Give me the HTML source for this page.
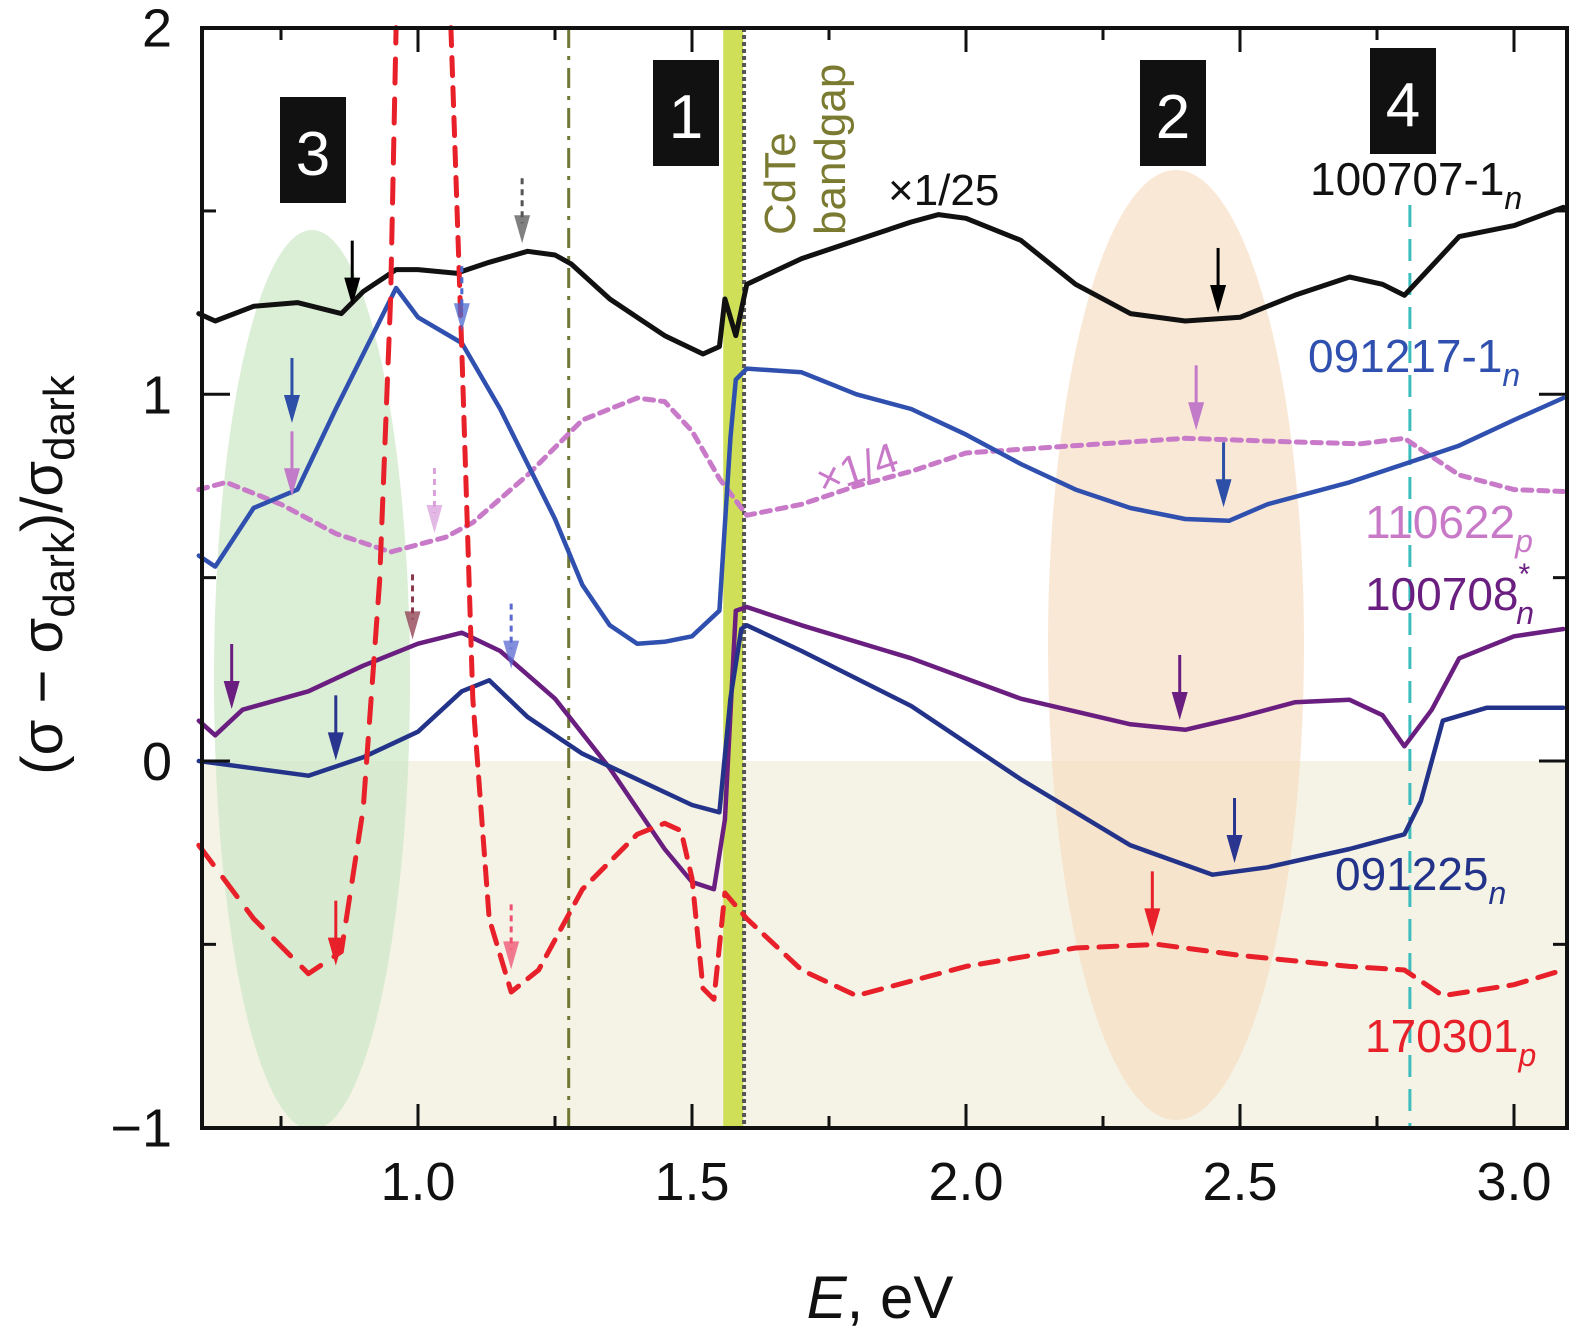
<!DOCTYPE html>
<html><head><meta charset="utf-8"><style>
html,body{margin:0;padding:0;background:#fff;}
svg{display:block;font-family:"Liberation Sans",sans-serif;}
</style></head><body>
<svg id="chart" width="1575" height="1338" viewBox="0 0 1575 1338" xmlns="http://www.w3.org/2000/svg">
<g id="bg"></g><g id="series"></g><g id="fg"></g>
</svg>
<script>
const xTicks=[1.0,1.5,2.0,2.5,3.0];
const xTickLabels=["1.0","1.5","2.0","2.5","3.0"];
const yTicks=[-1,0,1,2];
const yTickLabels=["\u22121","0","1","2"];
const black=[[0.6,1.22],[0.63,1.2],[0.7,1.24],[0.78,1.25],[0.86,1.22],[0.9,1.28],[0.96,1.34],[1.0,1.34],[1.07,1.33],[1.13,1.36],[1.2,1.39],[1.25,1.38],[1.28,1.355],[1.35,1.26],[1.45,1.16],[1.52,1.11],[1.55,1.13],[1.56,1.26],[1.58,1.16],[1.6,1.3],[1.7,1.37],[1.8,1.42],[1.9,1.47],[1.95,1.49],[2.0,1.48],[2.1,1.42],[2.2,1.3],[2.3,1.22],[2.4,1.2],[2.5,1.21],[2.6,1.27],[2.7,1.32],[2.76,1.3],[2.8,1.27],[2.85,1.35],[2.9,1.43],[3.0,1.46],[3.09,1.51]];
const blue=[[0.6,0.56],[0.63,0.53],[0.7,0.69],[0.78,0.74],[0.85,0.96],[0.92,1.17],[0.96,1.29],[1.0,1.21],[1.08,1.14],[1.15,0.96],[1.25,0.66],[1.3,0.48],[1.35,0.37],[1.4,0.32],[1.45,0.325],[1.5,0.34],[1.55,0.41],[1.57,0.88],[1.58,1.04],[1.6,1.07],[1.7,1.06],[1.8,1.0],[1.9,0.96],[2.0,0.89],[2.1,0.81],[2.2,0.74],[2.3,0.69],[2.4,0.66],[2.48,0.655],[2.55,0.7],[2.7,0.76],[2.8,0.81],[2.9,0.86],[3.0,0.93],[3.09,0.99]];
const pink=[[0.6,0.74],[0.65,0.76],[0.75,0.7],[0.85,0.62],[0.95,0.57],[1.05,0.61],[1.1,0.65],[1.2,0.78],[1.3,0.93],[1.4,0.99],[1.45,0.98],[1.5,0.9],[1.55,0.77],[1.6,0.67],[1.7,0.7],[1.8,0.75],[1.9,0.79],[2.0,0.84],[2.2,0.86],[2.4,0.88],[2.6,0.87],[2.72,0.865],[2.8,0.88],[2.9,0.78],[3.0,0.74],[3.09,0.735]];
const purple=[[0.6,0.11],[0.63,0.07],[0.68,0.14],[0.8,0.19],[0.9,0.26],[1.0,0.32],[1.08,0.35],[1.15,0.3],[1.25,0.17],[1.35,-0.02],[1.45,-0.24],[1.5,-0.33],[1.54,-0.35],[1.56,-0.16],[1.58,0.41],[1.6,0.42],[1.7,0.37],[1.9,0.28],[2.1,0.17],[2.3,0.1],[2.4,0.085],[2.5,0.12],[2.6,0.16],[2.7,0.167],[2.76,0.125],[2.8,0.04],[2.85,0.14],[2.9,0.28],[3.0,0.34],[3.09,0.36]];
const navy=[[0.6,0.0],[0.7,-0.02],[0.8,-0.04],[0.9,0.01],[1.0,0.08],[1.08,0.19],[1.13,0.22],[1.2,0.12],[1.3,0.02],[1.4,-0.05],[1.5,-0.12],[1.55,-0.14],[1.57,0.17],[1.59,0.36],[1.6,0.37],[1.7,0.3],[1.9,0.15],[2.1,-0.05],[2.3,-0.23],[2.45,-0.31],[2.55,-0.29],[2.7,-0.24],[2.8,-0.2],[2.83,-0.11],[2.87,0.11],[2.95,0.145],[3.09,0.145]];
const red1=[[0.6,-0.23],[0.7,-0.43],[0.8,-0.58],[0.86,-0.52],[0.9,-0.13],[0.93,0.49],[0.95,1.26],[0.96,2.0]];
const red2=[[1.06,2.0],[1.08,1.12],[1.1,0.17],[1.13,-0.43],[1.17,-0.63],[1.22,-0.57],[1.3,-0.35],[1.4,-0.2],[1.45,-0.17],[1.48,-0.19],[1.5,-0.32],[1.52,-0.62],[1.54,-0.65],[1.56,-0.36],[1.6,-0.43],[1.7,-0.57],[1.8,-0.64],[2.0,-0.56],[2.2,-0.51],[2.35,-0.5],[2.5,-0.53],[2.7,-0.56],[2.8,-0.57],[2.87,-0.64],[3.0,-0.61],[3.09,-0.57]];
const arrows=[[0.88,1.22,"#000",0],[1.19,1.39,"#555",1],[0.77,0.90,"#2d4fa8",0],[1.08,1.15,"#4a6ad0",1],[0.77,0.70,"#c27bc8",0],[1.03,0.6,"#d9a0dc",1],[0.99,0.31,"#8b3a4a",1],[0.66,0.12,"#6a1f80",0],[0.85,-0.02,"#2a3590",0],[1.17,0.23,"#5a6ad0",1],[2.46,1.2,"#000",0],[2.42,0.88,"#c27bc8",0],[2.47,0.67,"#2d4fa8",0],[2.39,0.09,"#6a1f80",0],[2.49,-0.3,"#2a3590",0],[0.85,-0.58,"#e8202a",0],[1.17,-0.59,"#f05070",1],[2.34,-0.5,"#e8202a",0]];
const L=202,R=1567,T=28,B=1128;
const X=e=>418+(e-1)*548;
const Y=v=>761-366.7*v;
const NS="http://www.w3.org/2000/svg";
function mk(t,a,p){const el=document.createElementNS(NS,t);for(const k in a)el.setAttribute(k,a[k]);p.appendChild(el);return el;}
const bg=document.getElementById('bg'),sg=document.getElementById('series'),fg=document.getElementById('fg');
let r=mk('rect',{x:L,y:Y(0),width:R-L,height:B-Y(0),fill:'#f4f3e6'},bg);

let e1=mk('ellipse',{cx:312,cy:680,rx:98,ry:450,fill:'#cfe8c8',opacity:0.75},bg);

let e2=mk('ellipse',{cx:1176,cy:645,rx:128,ry:475,fill:'#f8dcc0',opacity:0.65},bg);

let band=mk('rect',{x:X(1.557),y:T,width:20,height:B-T,fill:'#cfe058'},bg);

let dl=mk('line',{x1:X(1.595),x2:X(1.595),y1:T,y2:B,stroke:'#555',"stroke-width":4,"stroke-dasharray":"4 3"},bg);

let dd=mk('line',{x1:X(1.275),x2:X(1.275),y1:T,y2:B,stroke:'#707833',"stroke-width":3,"stroke-dasharray":"20 8 4 8"},bg);

let tl=mk('line',{x1:X(2.81),x2:X(2.81),y1:205,y2:B,stroke:'#3cbcbc',"stroke-width":3,"stroke-dasharray":"22 12"},bg);

function path(d,color,w,dash,name){const s=d.map((p,i)=>(i?'L':'M')+X(p[0]).toFixed(1)+','+Y(p[1]).toFixed(1)).join('');
const el=mk('path',{d:s,fill:'none',stroke:color,"stroke-width":w,"stroke-linejoin":"round","stroke-linecap":"round"},sg);
if(dash)el.setAttribute('stroke-dasharray',dash);

}
path(pink,'#c87ac8',5,'9 7','series-110622');
path(black,'#111',5,null,'series-100707-1');
path(blue,'#3050b0',4.5,null,'series-091217-1');
path(purple,'#6a1f80',4.5,null,'series-100708');
path(navy,'#24338a',4.5,null,'series-091225');
path(red1,'#e8202a',5,'24 16','series-170301-a');
path(red2,'#e8202a',5,'18 12','series-170301-b');
arrows.forEach(a=>{const x=X(a[0]),y=Y(a[1])-8;const g=mk('g',{},sg);


mk('line',{x1:x,x2:x,y1:y-65,y2:y-20,stroke:a[2],"stroke-width":3,"stroke-dasharray":a[3]?'6 5':'none'},g);
mk('polygon',{points:`${x-8},${y-28} ${x+8},${y-28} ${x},${y}`,fill:a[2],opacity:a[3]?0.75:1},g);});
let fr=mk('rect',{x:L,y:T,width:R-L,height:B-T,fill:'none',stroke:'#111',"stroke-width":4},fg);

for(let e=0.75;e<3.1;e+=0.25){const maj=Math.abs(e*2-Math.round(e*2))<1e-6;const len=maj?24:12;
mk('line',{x1:X(e),x2:X(e),y1:B,y2:B-len,stroke:'#111',"stroke-width":3},fg);
mk('line',{x1:X(e),x2:X(e),y1:T,y2:T+len,stroke:'#111',"stroke-width":3},fg);}
for(let v=-0.5;v<2;v+=0.5){const maj=Number.isInteger(v);const len=maj?28:14;
mk('line',{x1:L,x2:L+len,y1:Y(v),y2:Y(v),stroke:'#111',"stroke-width":3},fg);
mk('line',{x1:R,x2:R-len,y1:Y(v),y2:Y(v),stroke:'#111',"stroke-width":3},fg);}
xTicks.forEach((t,i)=>{const tx=mk('text',{x:X(t),y:1200,"text-anchor":"middle","font-size":54,fill:'#111'},fg);tx.textContent=xTickLabels[i];
});
yTicks.forEach((t,i)=>{const tx=mk('text',{x:172,y:Y(t)+19,"text-anchor":"end","font-size":54,fill:'#111'},fg);tx.textContent=yTickLabels[i];
});
function txt(x,y,s,size,color,name,extra){const t=mk('text',Object.assign({x:x,y:y,"font-size":size,fill:color},extra||{}),fg);t.innerHTML=s;
return t;}
txt(880,1318,'<tspan font-style="italic">E</tspan>, eV',60,'#111','x-axis-title',{"text-anchor":"middle"});
txt(0,0,'(σ − σ<tspan font-size="44" dy="12">dark</tspan><tspan dy="-12">)/σ</tspan><tspan font-size="44" dy="12">dark</tspan>',58,'#111','y-axis-title',{"text-anchor":"middle",transform:"translate(62,575) rotate(-90)"});
[[280,97,'3'],[653,60,'1'],[1140,60,'2'],[1370,48,'4']].forEach(b=>{const g=mk('g',{},fg);


mk('rect',{x:b[0],y:b[1],width:66,height:106,fill:'#111'},g);
const t=mk('text',{x:b[0]+33,y:b[1]+78,"text-anchor":"middle","font-size":62,fill:'#fff'},g);t.textContent=b[2];});
txt(0,0,'CdTe',44,'#7a7a30','cdte-label',{transform:"translate(795,235) rotate(-90)"});
txt(0,0,'bandgap',44,'#7a7a30','bandgap-label',{transform:"translate(845,235) rotate(-90)"});
txt(888,205,'×1/25',44,'#111','scale-label-black');
txt(0,0,'×1/4',42,'#c87ac8','scale-label-pink',{transform:"translate(822,495) rotate(-18)"});
txt(1310,195,'100707-1<tspan font-size="32" font-style="italic" dy="14">n</tspan>',46,'#111','label-100707-1');
txt(1308,372,'091217-1<tspan font-size="32" font-style="italic" dy="14">n</tspan>',46,'#3050b0','label-091217-1');
txt(1365,538,'110622<tspan font-size="32" font-style="italic" dy="14">p</tspan>',46,'#c87ac8','label-110622');
txt(1365,610,'100708<tspan font-size="30" dy="-26">*</tspan><tspan font-size="32" font-style="italic" dx="-14" dy="40">n</tspan>',46,'#6a1f80','label-100708');
txt(1335,890,'091225<tspan font-size="32" font-style="italic" dy="14">n</tspan>',46,'#24338a','label-091225');
txt(1365,1052,'170301<tspan font-size="32" font-style="italic" dy="14">p</tspan>',46,'#e8202a','label-170301');
</script>
</body></html>
